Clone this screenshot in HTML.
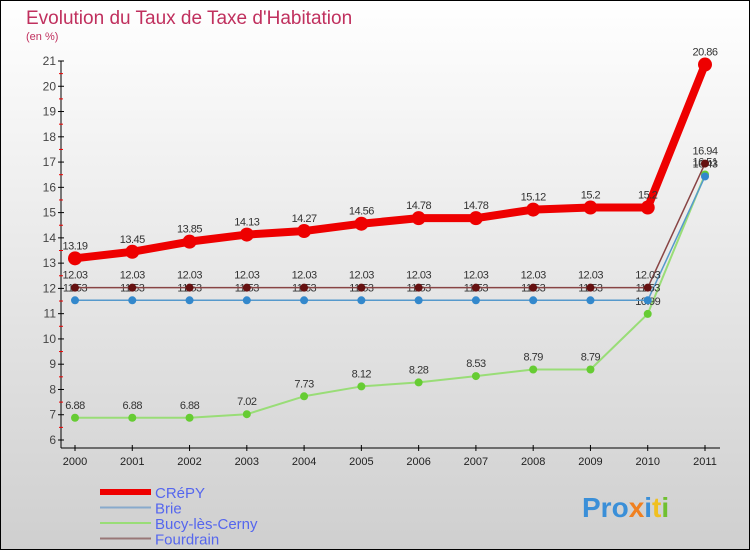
<!DOCTYPE html>
<html><head><meta charset="utf-8"><style>
body{margin:0;width:750px;height:550px;overflow:hidden;font-family:"Liberation Sans",sans-serif}
</style></head><body>
<svg width="750" height="550" xmlns="http://www.w3.org/2000/svg">
<defs><linearGradient id="bg" x1="0" y1="0" x2="0" y2="1"><stop offset="0" stop-color="#ffffff"/><stop offset="1" stop-color="#cfcfcf"/></linearGradient></defs>
<rect x="0.5" y="0.5" width="749" height="549" fill="url(#bg)" stroke="#000"/>
<text x="26" y="24" font-size="19" fill="#c0305e">Evolution du Taux de Taxe d'Habitation</text>
<text x="26" y="40" font-size="11" fill="#c0305e">(en %)</text>
<g id="axes"></g><g id="series"></g><g id="legend"></g>
<g font-size="28" font-weight="bold" font-family="Liberation Sans, sans-serif">
<text x="582" y="517" fill="#3a8fd8">Pro<tspan fill="#f08020">x</tspan><tspan fill="#3a8fd8">i</tspan><tspan fill="#f0c020">t</tspan><tspan fill="#70c030">i</tspan></text></g>
</svg>
<script>
const years=[2000,2001,2002,2003,2004,2005,2006,2007,2008,2009,2010,2011];
const crepy=[13.19,13.45,13.85,14.13,14.27,14.56,14.78,14.78,15.12,15.2,15.2,20.86];
const brie=[11.53,11.53,11.53,11.53,11.53,11.53,11.53,11.53,11.53,11.53,11.53,16.43];
const bucy=[6.88,6.88,6.88,7.02,7.73,8.12,8.28,8.53,8.79,8.79,10.99,16.51];
const fourdrain=[12.03,12.03,12.03,12.03,12.03,12.03,12.03,12.03,12.03,12.03,12.03,16.94];
const yTicks=[6,7,8,9,10,11,12,13,14,15,16,17,18,19,20,21];
const NS="http://www.w3.org/2000/svg";
const X=i=>75+i*(630/11), Y=v=>440-(v-6)*(379/15);
function mk(tag,at,parent,txt){const e=document.createElementNS(NS,tag);for(const k in at)e.setAttribute(k,at[k]);if(txt!==undefined)e.textContent=txt;parent.appendChild(e);return e;}
const ax=document.getElementById('axes');
let yl=mk('line',{x1:61,y1:Y(21),x2:61,y2:448,stroke:'#000'},ax);


let xl=mk('line',{x1:61,y1:448,x2:720,y2:448,stroke:'#000'},ax);


yTicks.forEach(v=>{mk('line',{x1:58,x2:64,y1:Y(v),y2:Y(v),stroke:'#000'},ax);
 if(v<21)mk('line',{x1:59,x2:63,y1:Y(v+0.5),y2:Y(v+0.5),stroke:'#e00'},ax);
 const t=mk('text',{x:56,y:Y(v)+4,'text-anchor':'end','font-size':12,fill:'#444'},ax,v);
 
 });
years.forEach((y,i)=>{mk('line',{x1:X(i),x2:X(i),y1:445,y2:451,stroke:'#000'},ax);
 const t=mk('text',{x:X(i),y:465,'text-anchor':'middle','font-size':11,fill:'#222'},ax,y);
 
 });
const sg=document.getElementById('series');
const S=[
 {n:'Bucy-lès-Cerny',d:bucy,c:'#99dd77',f:'#66cc33',w:2,r:4},
 {n:'Brie',d:brie,c:'#5599cc',f:'#3388cc',w:1.5,r:4},
 {n:'Fourdrain',d:fourdrain,c:'#884444',f:'#661111',w:1.5,r:4},
 {n:'CRéPY',d:crepy,c:'#ee0000',f:'#ee0000',w:8,r:7}];
S.forEach(s=>{const g=mk('g',{},sg);
 
 
 mk('polyline',{points:s.d.map((v,i)=>X(i)+','+Y(v)).join(' '),fill:'none',stroke:s.c,'stroke-width':s.w,'stroke-linejoin':'round'},g);
 s.d.forEach((v,i)=>{const c=mk('circle',{cx:X(i),cy:Y(v),r:s.r,fill:s.f},g);
  
  
  const t=mk('text',{x:X(i),y:Y(v)-9,'text-anchor':'middle','font-size':11,fill:'#333','letter-spacing':'-0.5'},g,String(v));
  
  });});
const lg=document.getElementById('legend');
[['CRéPY','#ee0000',6],['Brie','#88aacc',2],['Bucy-lès-Cerny','#99dd77',2],['Fourdrain','#997777',2]].forEach((e,i)=>{
 const y=492+i*15.5;const g=mk('g',{},lg);
 
 
 mk('line',{x1:100,x2:151,y1:y,y2:y,stroke:e[1],'stroke-width':e[2]},g);
 mk('text',{x:155,y:y+6,'font-size':15,fill:'#5566ee'},g,e[0]);});
</script>
</body></html>
